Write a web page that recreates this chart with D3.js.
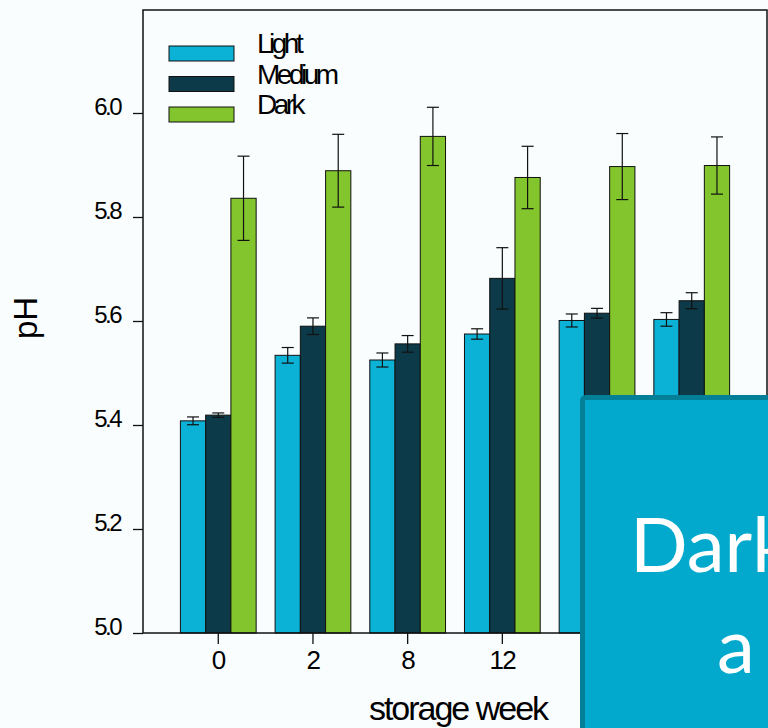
<!DOCTYPE html>
<html>
<head>
<meta charset="utf-8">
<script src="https://cdn.jsdelivr.net/npm/d3@7/dist/d3.min.js"></script>
<style>
  html, body { margin: 0; padding: 0; background: #fafdfe; }
  svg { display: block; }
  .tick text { font-family: "Liberation Sans", Arial, sans-serif; fill: #000; }
</style>
</head>
<body>
<svg id="chart" width="768" height="728"></svg>
<script>
// storage weeks on the x axis
const weeks = ["0", "2", "8", "12", "16", "20"];
const seriesNames = ["Light", "Medium", "Dark"];
// mean pH per roast level
const lightPH  = [5.408, 5.534, 5.525, 5.575, 5.601, 5.603];
const mediumPH = [5.419, 5.590, 5.556, 5.682, 5.615, 5.639];
const darkPH   = [5.836, 5.889, 5.955, 5.876, 5.897, 5.899];
// error bar half-widths
const lightErr  = [0.0075, 0.015, 0.0135, 0.010, 0.0125, 0.013];
const mediumErr = [0.0042, 0.016, 0.016, 0.059, 0.0093, 0.0154];
const darkErr   = [0.081, 0.070, 0.056, 0.060, 0.0635, 0.055];
const yTicks = [5.0, 5.2, 5.4, 5.6, 5.8, 6.0];
const colors = ["#0bb2d6", "#0c3a48", "#83c52c"];

const svg = d3.select("#chart");
const plotL = 143, plotR = 767, plotT = 10, plotB = 633;

const y = d3.scaleLinear().domain([5.0, 6.0]).range([plotB, plotB - 520]);
const x0 = d3.scaleBand().domain(weeks).range([plotL, plotR])
  .paddingInner(0.2).paddingOuter(0.395);
const x1 = d3.scaleBand().domain(seriesNames).range([0, x0.bandwidth()]);

const values = [lightPH, mediumPH, darkPH];
const errs = [lightErr, mediumErr, darkErr];
const rows = [];
weeks.forEach((w, i) => seriesNames.forEach((s, j) => {
  rows.push({ week: w, series: s, v: values[j][i], e: errs[j][i], c: colors[j] });
}));
const cx = d => x0(d.week) + x1(d.series) + x1.bandwidth() / 2;

// bars
const g = svg.append("g");
g.selectAll("rect.bar").data(rows).join("rect")
  .attr("class", "bar")
  .attr("x", d => x0(d.week) + x1(d.series))
  .attr("y", d => y(d.v))
  .attr("width", x1.bandwidth())
  .attr("height", d => y(5.0) - y(d.v))
  .attr("fill", d => d.c)
  .attr("stroke", "#111")
  .attr("stroke-width", 1);

// error bars
const capW = 12;
const eb = g.selectAll("g.err").data(rows).join("g").attr("class", "err")
  .attr("stroke", "#111").attr("stroke-width", 1.2);
eb.append("line")
  .attr("x1", cx).attr("x2", cx)
  .attr("y1", d => y(d.v + d.e)).attr("y2", d => y(d.v - d.e));
eb.append("line")
  .attr("x1", d => cx(d) - capW / 2).attr("x2", d => cx(d) + capW / 2)
  .attr("y1", d => y(d.v + d.e)).attr("y2", d => y(d.v + d.e));
eb.append("line")
  .attr("x1", d => cx(d) - capW / 2).attr("x2", d => cx(d) + capW / 2)
  .attr("y1", d => y(d.v - d.e)).attr("y2", d => y(d.v - d.e));

// frame
svg.append("rect")
  .attr("x", plotL).attr("y", plotT)
  .attr("width", plotR - plotL).attr("height", plotB - plotT)
  .attr("fill", "none").attr("stroke", "#111").attr("stroke-width", 1.5);

// axes
const yAxis = svg.append("g").attr("transform", `translate(${plotL},0)`)
  .call(d3.axisLeft(y).tickValues(yTicks).tickSize(10).tickPadding(13)
    .tickFormat(d3.format(".1f")));
yAxis.select(".domain").remove();
yAxis.selectAll(".tick line").attr("stroke", "#111").attr("stroke-width", 1.3);
yAxis.selectAll(".tick text")
  .attr("font-size", 24).attr("letter-spacing", "-2.5px")
  .attr("dy", "1px");

const xAxis = svg.append("g").attr("transform", `translate(0,${plotB})`)
  .call(d3.axisBottom(x0).tickSize(11).tickPadding(6));
xAxis.select(".domain").remove();
xAxis.selectAll(".tick line").attr("stroke", "#111").attr("stroke-width", 1.3);
xAxis.selectAll(".tick text")
  .attr("font-size", 26).attr("letter-spacing", "-1.5px")
  .attr("dy", 0).attr("y", 36);

// axis titles
svg.append("text")
  .attr("transform", "translate(37,318) rotate(-90)")
  .attr("text-anchor", "middle")
  .attr("font-family", "Liberation Sans, Arial, sans-serif")
  .attr("font-size", 33)
  .text("pH");
svg.append("text")
  .attr("x", 458).attr("y", 720)
  .attr("text-anchor", "middle")
  .attr("font-family", "Liberation Sans, Arial, sans-serif")
  .attr("font-size", 34).attr("letter-spacing", "-2px")
  .text("storage week");

// legend
const legend = svg.append("g").attr("transform", "translate(169,46)");
const li = legend.selectAll("g").data(seriesNames).join("g")
  .attr("transform", (d, i) => `translate(0,${i * 30.5})`);
li.append("rect").attr("width", 65).attr("height", 15)
  .attr("fill", (d, i) => colors[i]).attr("stroke", "#111").attr("stroke-width", 1);
li.append("text").attr("x", 88).attr("y", 7)
  .attr("font-family", "Liberation Sans, Arial, sans-serif")
  .attr("font-size", 28).attr("letter-spacing", "-3.5px")
  .text(d => d);

// callout panel in the lower right
const panel = svg.append("g");
panel.append("rect")
  .attr("x", 582.5).attr("y", 397.5).attr("width", 220).attr("height", 360)
  .attr("rx", 3)
  .attr("fill", "#02a9cc").attr("stroke", "#047f98").attr("stroke-width", 5);
panel.append("text").attr("x", 630).attr("y", 572)
  .attr("font-family", "Lato, 'Open Sans', sans-serif").attr("font-size", 76)
  .attr("fill", "#fff").text("Dark");
panel.append("text").attr("x", 717).attr("y", 673)
  .attr("font-family", "Lato, 'Open Sans', sans-serif").attr("font-size", 76)
  .attr("fill", "#fff").text("a");
</script>
</body>
</html>
